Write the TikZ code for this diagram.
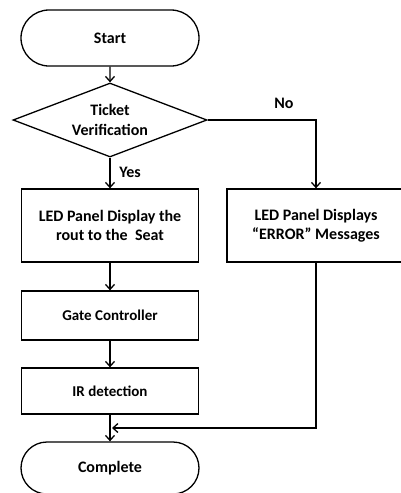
\documentclass[tikz,border=0pt]{standalone}
\usepackage{fontspec}
\setmainfont{Carlito}
\usetikzlibrary{shapes.geometric,shapes.misc,arrows.meta}
\begin{document}
\begin{tikzpicture}[x=1pt,y=-1pt,
  every node/.style={font=\bfseries\fontsize{16}{19.5}\selectfont, align=center, line width=1.3pt},
  term/.style={draw, rounded rectangle, minimum width=178pt, minimum height=56pt, inner sep=0pt},
  box/.style={draw, rectangle, inner sep=0pt, minimum width=177pt},
  smallbox/.style={box, font=\bfseries\fontsize{15}{18}\selectfont},
  lbl/.style={inner sep=0pt},
  arr/.style={-{Straight Barb[length=5pt,width=9pt]}, line width=1.3pt}]
\useasboundingbox (0,0) rectangle (401,493);

\node[term] (start) at (110,38) {Start};
\node[draw, diamond, aspect=2.62, minimum width=194pt, minimum height=74pt, inner sep=0pt] (dec) at (110,120) {Ticket\\Verification};
\node[box, minimum height=73pt] (led) at (110,225.5) {LED Panel Display the\\rout to the\ \ Seat};
\node[box, minimum width=178pt, minimum height=73pt] (err) at (316,225.5) {LED Panel Displays\\“ERROR” Messages};
\node[smallbox, minimum height=49pt] (gate) at (110,315.5) {Gate Controller};
\node[smallbox, minimum height=46pt] (ir) at (110,391) {IR detection};
\node[term, minimum height=52pt] (comp) at (110,468) {Complete};

\node[lbl] (yes) at (130,172) {Yes};
\node[lbl] (no) at (284,103) {No};

\coordinate (mj) at (112,428);

\draw[arr] (start) -- (dec);
\draw[arr] (dec) -- (led);
\draw[arr] (dec.east) -| (err.north);
\draw[arr] (led) -- (gate);
\draw[arr] (gate) -- (ir);
\draw[arr] (ir) -- (comp);
\draw[arr] (err.south) |- (mj);
\end{tikzpicture}
\end{document}
